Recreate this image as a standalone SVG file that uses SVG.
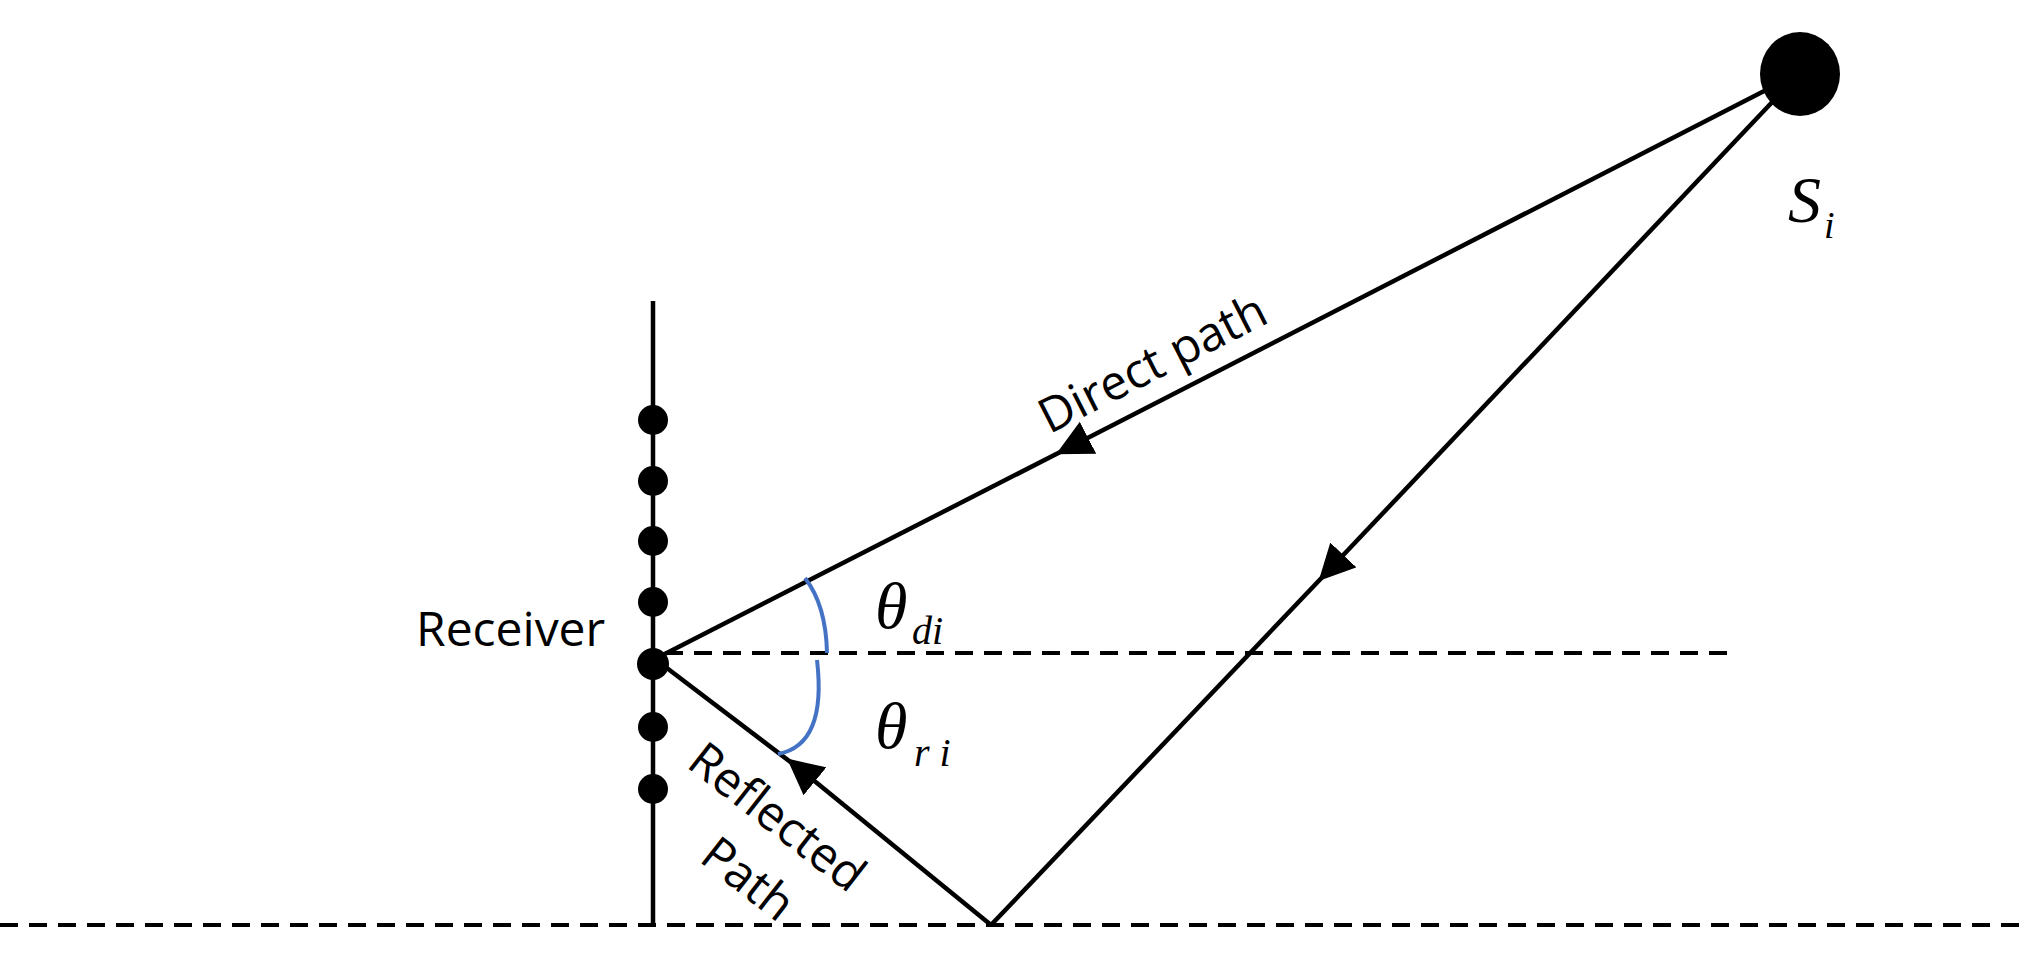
<svg xmlns="http://www.w3.org/2000/svg" width="2026" height="957" viewBox="0 0 2026 957">
<style>
.l{stroke:#000;stroke-width:4.5;fill:none}
.d{stroke:#000;stroke-width:4;fill:none;stroke-dasharray:18 11}
.t{font-family:"Open Sans","Liberation Sans",sans-serif;font-size:48px;fill:#000}
.m{font-family:"Liberation Serif",serif;font-style:italic;fill:#000}
</style>
<defs><marker id="a" viewBox="0 0 10 10" refX="5" refY="5" markerWidth="8" markerHeight="8" markerUnits="strokeWidth" orient="auto"><path d="M0,0L10,5L0,10z" fill="#000"/></marker></defs>
<rect width="2026" height="957" fill="#fff"/>
<g id="connectors">
<line class="d" x1="0" y1="925" x2="2026" y2="925"/>
<line class="d" x1="665" y1="653" x2="1732" y2="653"/>
<line class="l" x1="653" y1="301" x2="653" y2="925"/>
<path class="l" d="M1770,88L1072,446" marker-end="url(#a)"/>
<path class="l" d="M1072,446L655,659"/>
<path class="l" d="M1777,97L1331,568" marker-end="url(#a)"/>
<path class="l" d="M1331,568L991,925"/>
<path class="l" d="M991,925L801,770" marker-end="url(#a)"/>
<path class="l" d="M801,770L655,659"/>
<path d="M805,578Q826,605 827,653M817,660Q827,745 778,754" stroke="#4472c4" stroke-width="4" fill="none"/>
</g>
<g id="source"><ellipse cx="1800" cy="74" rx="40" ry="42"/><text class="m" x="1788" y="222" font-size="66">S</text><text class="m" x="1824" y="238" font-size="38">i</text></g>
<g id="receiver">
<circle cx="653" cy="420" r="15"/><circle cx="653" cy="481" r="15"/><circle cx="653" cy="541" r="15"/><circle cx="653" cy="602" r="15"/><circle cx="653" cy="664" r="16"/><circle cx="653" cy="727" r="15"/><circle cx="653" cy="789" r="15"/>
<text class="t" x="416" y="646">Receiver</text></g>
<g id="labels">
<text class="t" text-anchor="middle" font-size="50" transform="translate(1160,378) rotate(-27)">Direct path</text>
<text class="t" text-anchor="middle" font-size="54" transform="translate(767,830) rotate(38)">Reflected</text>
<text class="t" text-anchor="middle" font-size="54" transform="translate(738,892) rotate(38)">Path</text>
<text class="m" x="875" y="628" font-size="66">θ</text><text class="m" x="912" y="644" font-size="40">di</text>
<text class="m" x="875" y="748" font-size="66">θ</text><text class="m" x="914" y="766" font-size="40">r i</text>
</g>
</svg>
